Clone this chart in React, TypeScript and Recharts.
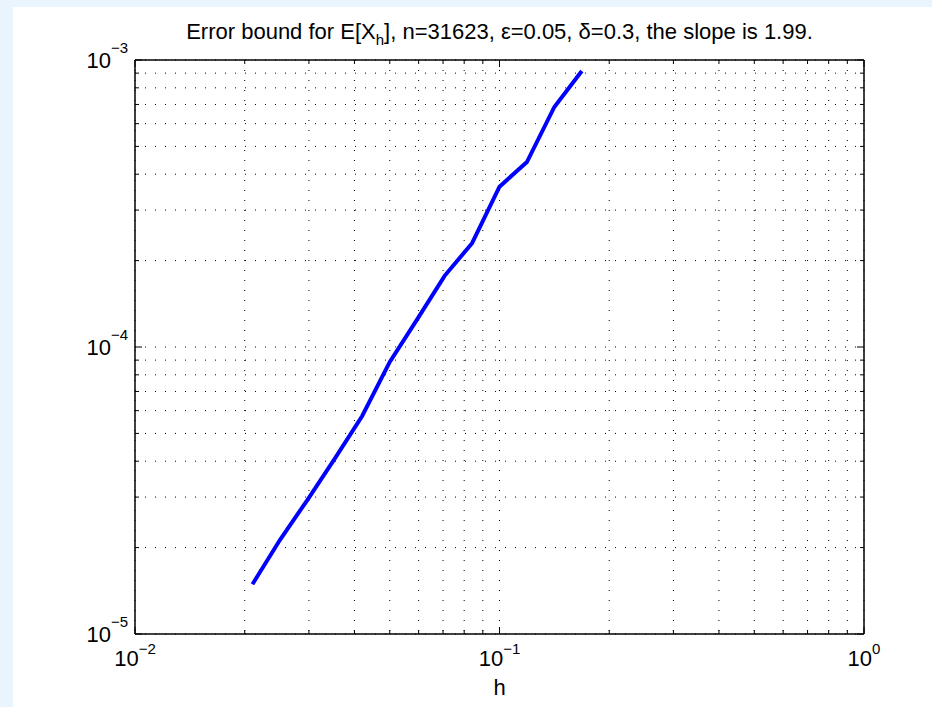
import React from 'react';
import { LineChart, Line, XAxis, YAxis, CartesianGrid } from 'recharts';

// Step sizes h and the corresponding error bounds for E[X_h]
const stepSizes = [0.021, 0.025, 0.0297, 0.0354, 0.042, 0.05, 0.0595, 0.0707, 0.0841, 0.1, 0.1189, 0.1414, 0.1682];
const errorBounds = [1.49e-5, 2.13e-5, 2.93e-5, 4.1e-5, 5.75e-5, 8.87e-5, 1.25e-4, 1.77e-4, 2.3e-4, 3.62e-4, 4.41e-4, 6.86e-4, 9.16e-4];

// Log-axis ticks (decades plus the 2..9 minor positions)
const hTicks = [
  0.01, 0.02, 0.03, 0.04, 0.05, 0.06, 0.07, 0.08, 0.09,
  0.1, 0.2, 0.3, 0.4, 0.5, 0.6, 0.7, 0.8, 0.9, 1,
];
const errTicks = [
  1e-5, 2e-5, 3e-5, 4e-5, 5e-5, 6e-5, 7e-5, 8e-5, 9e-5,
  1e-4, 2e-4, 3e-4, 4e-4, 5e-4, 6e-4, 7e-4, 8e-4, 9e-4, 1e-3,
];

const titleHead = 'Error bound for E[X';
const titleSub = 'h';
const titleTail = '], n=31623, \u03b5=0.05, \u03b4=0.3, the slope is 1.99.';
const xLabel = 'h';

const data = stepSizes.map((h, i) => ({ h, err: errorBounds[i] }));

const FONT = '"Liberation Sans", Arial, Helvetica, sans-serif';
const MAJOR = 7;
const MINOR = 4;

const isDecade = (v: number) => Math.abs(Math.log10(v) - Math.round(Math.log10(v))) < 1e-9;
const expText = (v: number) => {
  const e = Math.round(Math.log10(v));
  return e < 0 ? '\u2212' + String(-e) : String(e);
};

function BottomTick(props: any) {
  const { x, y, payload } = props;
  const major = isDecade(payload.value);
  return (
    <g>
      <line x1={x} x2={x} y1={y} y2={y - (major ? MAJOR : MINOR)} stroke="#000" strokeWidth={1} />
      {major && (
        <text x={x} y={y + 32} textAnchor="middle" fontFamily={FONT} fontSize={22} fill="#000">
          10
          <tspan dy={-12} fontSize={15}>{expText(payload.value)}</tspan>
        </text>
      )}
    </g>
  );
}

function TopTick(props: any) {
  const { x, y, payload } = props;
  const major = isDecade(payload.value);
  return <line x1={x} x2={x} y1={y} y2={y + (major ? MAJOR : MINOR)} stroke="#000" strokeWidth={1} />;
}

function LeftTick(props: any) {
  const { x, y, payload } = props;
  const major = isDecade(payload.value);
  return (
    <g>
      <line x1={x} x2={x + (major ? MAJOR : MINOR)} y1={y} y2={y} stroke="#000" strokeWidth={1} />
      {major && (
        <text x={x - 7} y={y + 8} textAnchor="end" fontFamily={FONT} fontSize={22} fill="#000">
          10
          <tspan dy={-15} fontSize={15}>{expText(payload.value)}</tspan>
        </text>
      )}
    </g>
  );
}

function RightTick(props: any) {
  const { x, y, payload } = props;
  const major = isDecade(payload.value);
  return <line x1={x} x2={x - (major ? MAJOR : MINOR)} y1={y} y2={y} stroke="#000" strokeWidth={1} />;
}

function TitleLabel(props: any) {
  const { viewBox } = props;
  const cx = viewBox.x + viewBox.width / 2;
  return (
    <text x={cx} y={viewBox.y + viewBox.height - 21} textAnchor="middle" fontFamily={FONT} fontSize={22} fill="#000">
      {titleHead}
      <tspan dy={6} fontSize={15}>{titleSub}</tspan>
      <tspan dy={-6}>{titleTail}</tspan>
    </text>
  );
}

function XLabel(props: any) {
  const { viewBox } = props;
  return (
    <text x={viewBox.x + viewBox.width / 2} y={viewBox.y + 61} textAnchor="middle" fontFamily={FONT} fontSize={22} fill="#000">
      {xLabel}
    </text>
  );
}

export default function App() {
  return (
    <div style={{ position: 'absolute', left: 0, top: 0, width: 932, height: 707, background: '#eaf4fd' }}>
      <div style={{ position: 'absolute', left: 13, top: 7, right: 0, bottom: 0, background: '#ffffff' }} />
      <div style={{ position: 'absolute', left: 0, top: 0 }}>
        <LineChart width={932} height={707} data={data} margin={{ top: 59, left: 60, right: 67, bottom: 0 }}>
          <CartesianGrid stroke="#000" strokeWidth={1} strokeDasharray="1 9" />
          <XAxis
            dataKey="h"
            type="number"
            scale="log"
            domain={[0.01, 1]}
            allowDataOverflow
            ticks={hTicks}
            interval={0}
            height={73}
            tickSize={0}
            tickMargin={0}
            tickLine={false}
            axisLine={{ stroke: '#000', strokeWidth: 1.5 }}
            tick={<BottomTick />}
            label={<XLabel />}
          />
          <XAxis
            xAxisId="top"
            orientation="top"
            dataKey="h"
            type="number"
            scale="log"
            domain={[0.01, 1]}
            allowDataOverflow
            ticks={hTicks}
            interval={0}
            height={1}
            tickSize={0}
            tickMargin={0}
            tickLine={false}
            axisLine={{ stroke: '#000', strokeWidth: 1.5 }}
            tick={<TopTick />}
            label={<TitleLabel />}
          />
          <YAxis
            type="number"
            scale="log"
            domain={[1e-5, 1e-3]}
            allowDataOverflow
            ticks={errTicks}
            interval={0}
            width={75}
            tickSize={0}
            tickMargin={0}
            tickLine={false}
            axisLine={{ stroke: '#000', strokeWidth: 1.5 }}
            tick={<LeftTick />}
          />
          <YAxis
            yAxisId="right"
            orientation="right"
            type="number"
            scale="log"
            domain={[1e-5, 1e-3]}
            allowDataOverflow
            ticks={errTicks}
            interval={0}
            width={1}
            tickSize={0}
            tickMargin={0}
            tickLine={false}
            axisLine={{ stroke: '#000', strokeWidth: 1.5 }}
            tick={<RightTick />}
          />
          <Line
            dataKey="err"
            stroke="#0000ff"
            strokeWidth={4}
            dot={false}
            isAnimationActive={false}
          />
        </LineChart>
      </div>
    </div>
  );
}
